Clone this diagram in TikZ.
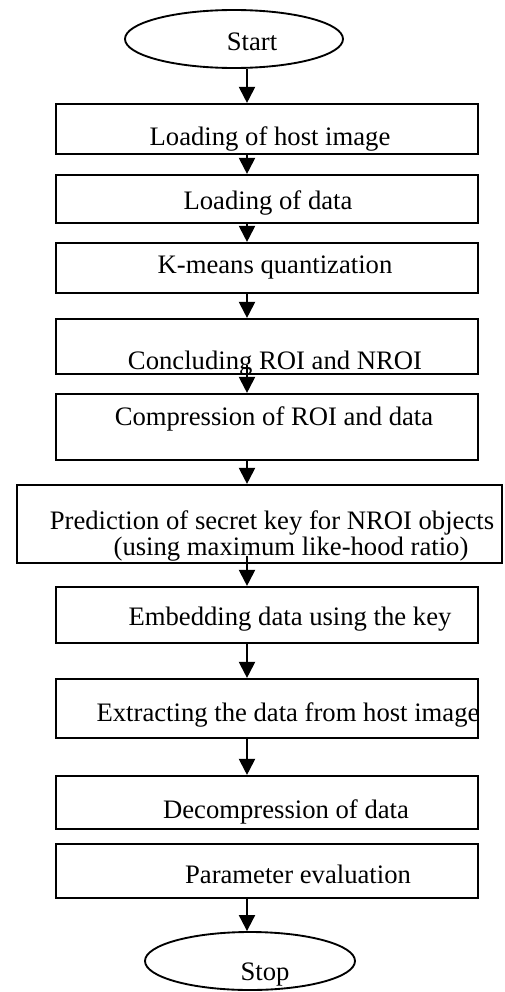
\documentclass[tikz,border=0pt]{standalone}
\usepackage{fontspec}
\setmainfont{Liberation Serif}
\usetikzlibrary{arrows.meta,shapes.geometric}
\begin{document}
\begin{tikzpicture}[x=0.75pt,y=-0.75pt,
  flowbox/.style n args={2}{draw, line width=1.6pt, rectangle, inner sep=0pt,
    minimum width={#1*0.75pt}, minimum height={#2*0.75pt}},
  terminal/.style n args={2}{draw, line width=1.4pt, ellipse, inner sep=0pt,
    minimum width={#1*0.75pt}, minimum height={#2*0.75pt}},
  steptext/.style={anchor=base, inner sep=0pt, font=\fontsize{20}{24}\selectfont},
  flow/.style={line width=1.5pt, -{Triangle[width=12pt,length=12pt]}}]
\useasboundingbox (0,0) rectangle (504,992);
\coordinate (ax) at (247,0);

% terminals
\node[terminal={218}{58}] (start) at (234,39) {};
\node[steptext] (starttxt) at (252,50) {Start};
\node[terminal={210}{58}] (stop) at (250,961) {};
\node[steptext] (stoptxt) at (265,980) {Stop};

% process boxes
\node[flowbox={422}{50}] (b1) at (267,129) {};
\node[flowbox={422}{48}] (b2) at (267,199) {};
\node[flowbox={422}{50}] (b3) at (267,268) {};
\node[flowbox={422}{55}] (b4) at (267,346.5) {};
\node[flowbox={422}{66}] (b5) at (267,427) {};
\node[flowbox={485}{78}] (b6) at (259.5,524) {};
\node[flowbox={422}{56}] (b7) at (267,615) {};
\node[flowbox={422}{59}] (b8) at (267,708.5) {};
\node[flowbox={422}{53}] (b9) at (267,802.5) {};
\node[flowbox={422}{54}] (b10) at (267,871) {};

% box texts
\node[steptext] (t1) at (270,145) {Loading of host image};
\node[steptext] (t2) at (268,209) {Loading of data};
\node[steptext] (t3) at (275,273) {K-means quantization};
\node[steptext] (t4) at (275,369) {Concluding ROI and NROI};
\node[steptext] (t5) at (274,425) {Compression of ROI and data};
\node[steptext] (t6a) at (272,529) {Prediction of secret key for NROI objects};
\node[steptext] (t6b) at (291,555) {(using maximum like-hood ratio)};
\node[steptext] (t7) at (290,625) {Embedding data using the key};
\node[steptext] (t8) at (288,721) {Extracting the data from host image};
\node[steptext] (t9) at (286,818) {Decompression of data};
\node[steptext] (t10) at (298,883) {Parameter evaluation};

% connectors
\path (b4.south -| ax) ++(0,-10) coordinate (a4);
\path (b6.south -| ax) ++(0,-8) coordinate (a6);
\draw[flow] (start.south -| ax) -- (b1.north -| ax);
\draw[flow] (b1.south -| ax) -- (b2.north -| ax);
\draw[flow] (b2.south -| ax) -- (b3.north -| ax);
\draw[flow] (b3.south -| ax) -- (b4.north -| ax);
\draw[flow] (a4) -- (b5.north -| ax);
\draw[flow] (b5.south -| ax) -- (b6.north -| ax);
\draw[flow] (a6) -- (b7.north -| ax);
\draw[flow] (b7.south -| ax) -- (b8.north -| ax);
\draw[flow] (b8.south -| ax) -- (b9.north -| ax);
\draw[flow] (b10.south -| ax) -- (stop.north -| ax);
\end{tikzpicture}
\end{document}
